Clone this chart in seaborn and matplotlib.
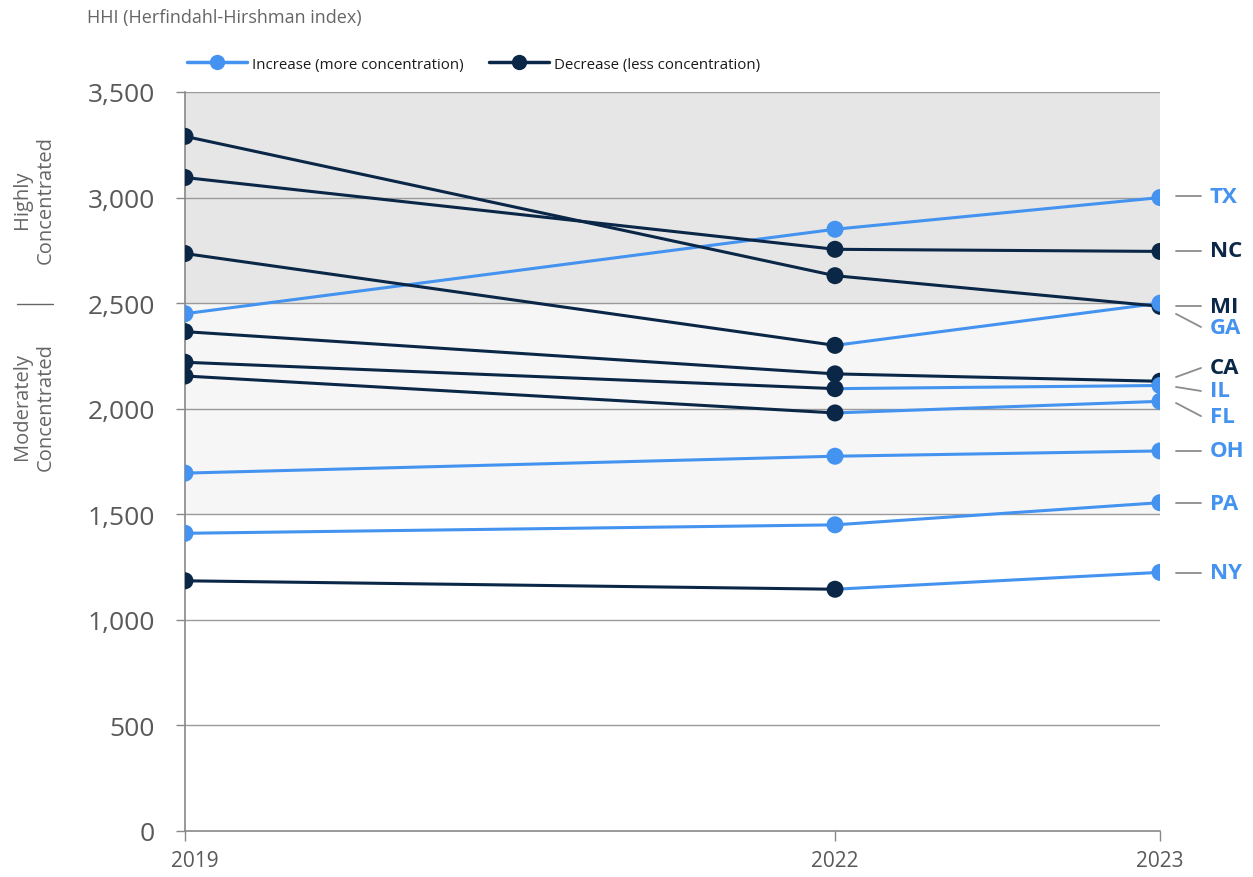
import matplotlib
matplotlib.use("Agg")
import matplotlib.pyplot as plt
import matplotlib.transforms as mtransforms
from matplotlib.lines import Line2D
import seaborn as sns
import pandas as pd

# ---------------- data ----------------
years = ["2019", "2022", "2023"]
year_pos = [0, 2, 3]
states = ["TX", "NC", "MI", "GA", "CA", "IL", "FL", "OH", "PA", "NY"]
hhi_2019 = [2450, 3095, 3290, 2735, 2365, 2220, 2155, 1695, 1410, 1185]
hhi_2022 = [2850, 2755, 2630, 2300, 2165, 2095, 1980, 1775, 1450, 1145]
hhi_2023 = [3000, 2745, 2485, 2500, 2130, 2110, 2035, 1800, 1555, 1225]
# label positions (value level of right-hand labels) and leader start levels
label_level = [3007, 2747, 2486, 2387, 2193, 2084, 1965, 1800, 1553, 1222]
leader_start = [3007, 2747, 2486, 2449, 2150, 2103, 2027, 1800, 1553, 1222]
y_ticks = [0, 500, 1000, 1500, 2000, 2500, 3000, 3500]

LIGHT = "#4493F0"
DARK = "#0A2747"
GREY_TXT = "#595959"
palette = {"Increase": LIGHT, "Decrease": DARK}

# ---------------- build tables ----------------
seg_rows = []
pt_rows = []
for i, st in enumerate(states):
    vals = [hhi_2019[i], hhi_2022[i], hhi_2023[i]]
    d1 = "Increase" if vals[1] > vals[0] else "Decrease"
    d2 = "Increase" if vals[2] > vals[1] else "Decrease"
    for p, v in [(year_pos[0], vals[0]), (year_pos[1], vals[1])]:
        seg_rows.append(dict(seg=f"{st}-1", pos=p, hhi=v, direction=d1))
    for p, v in [(year_pos[1], vals[1]), (year_pos[2], vals[2])]:
        seg_rows.append(dict(seg=f"{st}-2", pos=p, hhi=v, direction=d2))
    pt_rows.append(dict(pos=year_pos[0], hhi=vals[0], direction=d1))
    pt_rows.append(dict(pos=year_pos[1], hhi=vals[1], direction=d1))
    pt_rows.append(dict(pos=year_pos[2], hhi=vals[2], direction=d2))
segs = pd.DataFrame(seg_rows)
pts = pd.DataFrame(pt_rows)

# ---------------- figure ----------------
sns.set_theme(style="white")
plt.rcParams["font.family"] = ["Open Sans", "DejaVu Sans"]

fig = plt.figure(figsize=(12.53, 8.78), dpi=100)
ax = fig.add_axes([185 / 1253, 1 - 832 / 878, (1160 - 185) / 1253, (832 - 93) / 878])

ax.axhspan(2500, 3500, color="#E6E6E6", zorder=0, lw=0)
ax.axhspan(1500, 2500, color="#F6F6F6", zorder=0, lw=0)
for t in y_ticks[1:]:
    ax.axhline(t, color="#9A9A9A", lw=1, zorder=0.5)

sns.lineplot(data=segs, x="pos", y="hhi", hue="direction", units="seg",
             estimator=None, palette=palette, lw=2.2, legend=False, ax=ax,
             zorder=2)
sns.scatterplot(data=pts, x="pos", y="hhi", hue="direction", palette=palette,
                s=150, linewidth=0, legend=False, ax=ax, zorder=3)

ax.set_xlim(0, 3)
ax.set_ylim(0, 3500)
ax.set_xlabel("")
ax.set_ylabel("")
ax.set_yticks(y_ticks)
ax.set_yticklabels([f"{t:,}" for t in y_ticks])
ax.set_xticks(year_pos)
ax.set_xticklabels(years)
ax.tick_params(axis="y", length=6.5, width=1, color="#888888", pad=15,
               labelsize=19, labelcolor=GREY_TXT, left=True)
ax.tick_params(axis="x", length=7, width=1, color="#888888", pad=7,
               labelsize=15, labelcolor=GREY_TXT, bottom=True)
for lbl in ax.get_xticklabels()[:1]:
    lbl.set_transform(lbl.get_transform() +
                      mtransforms.ScaledTranslation(10 / 100, 0, fig.dpi_scale_trans))
for s in ["top", "right"]:
    ax.spines[s].set_visible(False)
for s in ["left", "bottom"]:
    ax.spines[s].set_color("#888888")
    ax.spines[s].set_linewidth(1.2)

# right-hand labels with leaders
px = 325.0
for i, st in enumerate(states):
    col = LIGHT if hhi_2023[i] > hhi_2022[i] else DARK
    ax.plot([3 + 16 / px, 3 + 41 / px], [leader_start[i], label_level[i]],
            color="#8C8C8C", lw=1.3, clip_on=False, zorder=1)
    ax.text(3 + 50 / px, label_level[i], st, color=col, fontsize=16,
            fontweight="bold", ha="left", va="center", clip_on=False)

# left-side zone labels
fig.text(34 / 1253, 1 - 200 / 878, "Highly\nConcentrated", rotation=90,
         ha="center", va="center", fontsize=14.5, color="#666666",
         linespacing=1.2)
fig.text(34 / 1253, 1 - 407 / 878, "Moderately\nConcentrated", rotation=90,
         ha="center", va="center", fontsize=14.5, color="#666666",
         linespacing=1.2)
fig.add_artist(Line2D([17 / 1253, 53 / 1253], [1 - 305 / 878, 1 - 305 / 878],
                      color="#666666", lw=1, transform=fig.transFigure))

# title
fig.text(87 / 1253, 1 - 18 / 878, "HHI (Herfindahl-Hirshman index)",
         ha="left", va="center", fontsize=13, color="#666666")

# legend
handles = [
    Line2D([], [], color=LIGHT, lw=2.5, marker="o", markersize=11,
           markeredgewidth=0, label="Increase (more concentration)"),
    Line2D([], [], color=DARK, lw=2.5, marker="o", markersize=11,
           markeredgewidth=0, label="Decrease (less concentration)"),
]
fig.legend(handles=handles, loc="center left",
           bbox_to_anchor=(173 / 1253, 1 - 65 / 878), ncol=2, frameon=False,
           fontsize=10.8, handlelength=4.0, handletextpad=0.35,
           columnspacing=1.7, labelcolor="#1a1a1a")

fig.savefig("out.png", dpi=100)
